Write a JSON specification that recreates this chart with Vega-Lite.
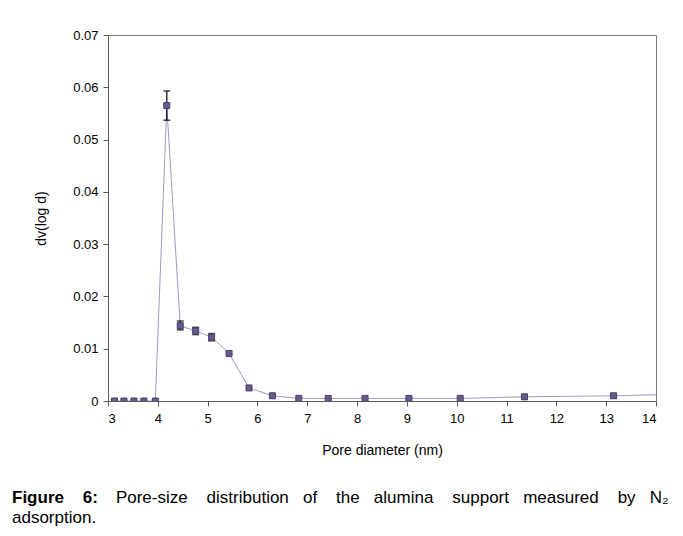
{
  "$schema": "https://vega.github.io/schema/vega-lite/v6.json",
  "width": 548,
  "height": 366,
  "autosize": {"type": "none"},
  "padding": {"left": 108, "top": 35, "right": 27, "bottom": 135},
  "background": "white",
  "config": {
    "font": "Liberation Sans",
    "view": {"stroke": "#7a7a7a", "strokeWidth": 1},
    "axis": {
      "grid": false,
      "domainColor": "#5a5a5a",
      "tickColor": "#5a5a5a",
      "tickSize": 5,
      "labelColor": "#000000",
      "labelFontSize": 13,
      "titleColor": "#000000",
      "titleFontSize": 14,
      "titleFontWeight": "normal"
    }
  },
  "data": {
    "values": [
      {"d": 3.13, "v": 0},
      {"d": 3.32, "v": 0},
      {"d": 3.52, "v": 0},
      {"d": 3.72, "v": 0},
      {"d": 3.95, "v": 0},
      {"d": 4.18, "v": 0.0565, "lo": 0.0537, "hi": 0.0593},
      {"d": 4.45, "v": 0.0144, "lo": 0.0136, "hi": 0.0153},
      {"d": 4.76, "v": 0.0134, "lo": 0.0127, "hi": 0.0141},
      {"d": 5.08, "v": 0.0122, "lo": 0.0115, "hi": 0.0129},
      {"d": 5.43, "v": 0.0091},
      {"d": 5.83, "v": 0.0025},
      {"d": 6.3, "v": 0.001},
      {"d": 6.83, "v": 0.0005},
      {"d": 7.42, "v": 0.0005},
      {"d": 8.16, "v": 0.0005},
      {"d": 9.04, "v": 0.0005},
      {"d": 10.07, "v": 0.0005},
      {"d": 11.36, "v": 0.0008},
      {"d": 13.15, "v": 0.001},
      {"d": 15.6, "v": 0.00157}
    ]
  },
  "title": {
    "text": "Figure\u00a0\u00a0\u00a0\u00a06:",
    "orient": "bottom",
    "anchor": "start",
    "frame": "group",
    "dx": -96,
    "offset": 33,
    "font": "Liberation Sans",
    "fontSize": 17,
    "fontWeight": "bold",
    "color": "#000000",
    "subtitle": [
      "\u200b\u00a0\u00a0\u00a0\u00a0\u00a0\u00a0\u00a0\u00a0\u00a0\u00a0\u00a0\u00a0\u00a0\u00a0\u00a0\u00a0\u00a0\u00a0\u00a0\u00a0\u00a0\u00a0Pore-size\u00a0\u00a0\u00a0\u00a0distribution\u00a0\u00a0\u00a0of\u00a0\u00a0\u00a0\u00a0the\u00a0\u00a0\u00a0alumina\u00a0\u00a0\u00a0\u00a0support\u00a0\u00a0\u00a0measured\u00a0\u00a0\u00a0\u00a0by\u00a0\u00a0\u00a0N₂",
      "adsorption."
    ],
    "subtitleFont": "Liberation Sans",
    "subtitleFontSize": 17,
    "subtitleColor": "#000000",
    "subtitlePadding": -17,
    "subtitleLineHeight": 20
  },
  "encoding": {
    "x": {
      "field": "d",
      "type": "quantitative",
      "scale": {"domain": [3, 14], "nice": false, "zero": false},
      "axis": {
        "values": [3, 4, 5, 6, 7, 8, 9, 10, 11, 12, 13, 14],
        "title": "Pore diameter (nm)",
        "labelPadding": 6,
        "titlePadding": 18
      }
    }
  },
  "layer": [
    {
      "mark": {"type": "line", "color": "#a596c9", "strokeWidth": 1, "clip": true},
      "encoding": {
        "y": {
          "field": "v",
          "type": "quantitative",
          "title": "dv(log d)",
          "scale": {"domain": [0, 0.07], "nice": false},
          "axis": {
            "values": [0, 0.01, 0.02, 0.03, 0.04, 0.05, 0.06, 0.07],
            "labelExpr": "datum.value == 0 ? '0' : format(datum.value, '.2f')",
            "title": "dv(log d)",
            "labelPadding": 5,
            "titlePadding": 24
          }
        }
      }
    },
    {
      "transform": [{"filter": "isValid(datum.lo)"}],
      "mark": {"type": "errorbar", "color": "#000000", "ticks": {"size": 7, "color": "#000000", "thickness": 1.5}, "rule": {"strokeWidth": 1.2}},
      "encoding": {
        "y": {"field": "lo", "type": "quantitative", "title": "dv(log d)"},
        "y2": {"field": "hi"}
      }
    },
    {
      "mark": {"type": "square", "size": 36, "filled": true, "color": "#6a5a8c", "stroke": "#4a3d68", "strokeWidth": 1, "opacity": 1, "clip": true},
      "encoding": {
        "y": {"field": "v", "type": "quantitative", "title": "dv(log d)"}
      }
    }
  ]
}
